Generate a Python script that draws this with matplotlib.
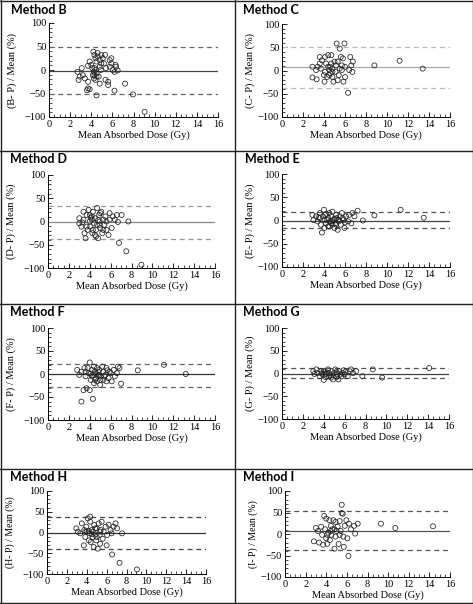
import matplotlib
matplotlib.use("Agg")
import matplotlib.pyplot as plt
from matplotlib.lines import Line2D
from matplotlib.ticker import MultipleLocator

# Bland-Altman style panels: relative difference vs mean absorbed dose

methods = ["B", "C", "D", "E", "F", "G", "H", "I"]
means = [-1.5, 7, -1, 0, -1, 0, 0, 8]
upper = [49, 50, 33, 19, 22, 12, 38, 53]
lower = [-52, -37, -38, -16, -28, -10, -40, -37]

b_dose = [2.7, 3.1, 2.9, 2.8, 3.2, 3.4, 3.7, 3.6, 3.85, 3.7, 3.85, 4.0, 4.1, 4.2, 4.3, 4.4, 4.5,
          4.3, 4.25, 4.3, 4.4, 4.5, 4.5, 4.4, 4.5, 4.6, 4.8, 4.8, 4.9, 4.7, 4.8, 4.95, 5.1, 5.2,
          5.3, 5.35, 5.6, 5.6, 5.75, 5.75, 5.9, 5.9, 6.05, 6.2, 6.3, 6.2, 6.35, 6.5, 7.2, 7.95,
          9.05, 4.15, 4.25, 4.6, 4.95, 5.4, 3.7]
b_diff = [-4, 4, -14, -21, -11, -18, -39, -43, -41, -25, 18, 11, 4, 39, 32, 25, 18,
          4, -4, -11, 0, -7, -14, -21, -54, 29, 21, 7, 0, -14, -29, 32, 25, 14,
          32, -21, -25, -32, 7, 21, 25, 14, 0, -4, 11, -44, 7, -1, -29, -52,
          -89, -11, -18, 36, 14, 4, 9]

c_dose = [2.9, 2.9, 3.25, 3.4, 3.3, 3.6, 3.7, 3.6, 3.8, 4.05, 4.0, 4.1, 4.2, 4.3, 4.4, 4.5, 4.5,
          4.6, 4.7, 4.7, 4.8, 4.8, 4.9, 5.0, 5.1, 5.15, 5.2, 5.3, 5.4, 5.5, 5.6, 5.7, 5.8, 5.7,
          5.85, 5.95, 6.0, 6.3, 6.4, 6.5, 6.6, 6.7, 6.75, 8.8, 11.2, 13.4, 4.6, 4.4, 4.8, 5.5,
          5.3, 4.1, 6.0]
c_diff = [8, -15, 1, 8, -19, 15, 4, 29, 22, -24, -10, 29, 15, -14, 33, 1, -10,
          8, 15, 33, -3, 4, -24, 19, -3, 11, 58, -21, -10, 47, 29, 11, 26, 1,
          -24, 58, -14, -48, 1, 29, 11, -3, 19, 11, 21, 4, -6, 8, -14, 4,
          19, -3, 8]

d_dose = [3.0, 3.0, 3.2, 3.4, 3.4, 3.5, 3.6, 3.7, 3.8, 3.9, 4.0, 4.05, 4.2, 4.25, 4.3, 4.4, 4.5,
          4.6, 4.6, 4.7, 4.8, 4.9, 4.95, 5.0, 5.1, 5.2, 5.3, 5.4, 5.5, 5.6, 5.8, 5.9, 5.9, 6.1,
          6.2, 6.4, 6.6, 6.7, 6.8, 7.05, 7.5, 7.7, 8.95, 3.7, 4.5, 4.7, 4.2, 4.95, 5.3, 4.3,
          4.0, 5.6, 4.1, 4.8, 5.0, 3.3]
d_diff = [7, -4, -11, 21, 4, -25, -36, 14, -18, 25, 0, -11, 11, -25, 21, -4, 7,
          -18, -32, -7, -36, 14, 0, -14, 21, -25, 4, -7, 11, -18, -29, 4, 18, -14,
          11, 4, 14, -1, -46, 14, -64, 0, -93, -11, -29, 29, 4, -7, -18, -18,
          14, 0, 8, 3, 18, -2]

e_dose = [2.9, 3.0, 3.25, 3.4, 3.6, 3.6, 3.7, 3.8, 4.0, 4.05, 4.05, 4.1, 4.2, 4.4, 4.5, 4.5, 4.6,
          4.7, 4.8, 4.8, 4.9, 5.0, 5.1, 5.15, 5.2, 5.3, 5.4, 5.5, 5.6, 5.7, 5.85, 5.95, 6.1, 6.3,
          6.4, 6.6, 6.7, 6.9, 7.2, 7.7, 8.8, 11.3, 13.5, 4.3, 3.9, 4.8, 5.4, 4.7, 5.8, 5.15,
          3.5, 4.4, 5.0, 6.0, 4.2]
e_diff = [12, 1, 9, -2, 5, 16, -9, -26, 23, 1, -16, 12, -6, 5, 16, -13, -2,
          9, -9, 19, 1, -16, -6, 12, 5, -20, -2, 9, -9, 16, 1, -16, 9, -2,
          12, -6, 16, 9, 21, 0, 11, 23, 6, 1, 9, -2, 1, -6, 5, -9,
          7, -12, 4, -4, 14]

f_dose = [2.8, 3.0, 3.2, 3.2, 3.4, 3.5, 3.6, 3.7, 3.9, 4.0, 4.0, 4.1, 4.2, 4.3, 4.3, 4.4, 4.4,
          4.5, 4.6, 4.7, 4.7, 4.8, 4.9, 5.0, 5.05, 5.2, 5.3, 5.3, 5.5, 5.6, 5.6, 5.8, 5.9, 6.0,
          6.1, 6.3, 6.4, 6.6, 6.7, 6.85, 7.0, 8.6, 11.1, 13.2, 3.8, 4.5, 4.8, 5.0, 5.4, 4.2,
          3.6, 4.1, 4.9, 5.7, 4.6]
f_diff = [9, -2, 5, -60, -35, 13, -5, -31, 2, -35, 25, -13, 9, -2, -54, -20, 16,
          5, -9, 13, -16, -2, 9, -24, -5, 16, -13, 5, -2, -16, 13, -9, 5, 2,
          -16, 9, -5, 2, 16, 13, -21, 8, 20, 0, 13, -13, 5, -13, -5, -5,
          5, 1, -3, 8, 0]

g_dose = [3.0, 3.1, 3.3, 3.4, 3.6, 3.75, 3.9, 4.0, 4.1, 4.2, 4.2, 4.4, 4.5, 4.5, 4.7, 4.8, 4.9,
          4.9, 5.0, 5.1, 5.2, 5.3, 5.4, 5.5, 5.7, 5.8, 5.9, 6.0, 6.1, 6.3, 6.5, 6.6, 6.8, 7.1,
          7.7, 8.7, 9.6, 14.1, 4.3, 4.6, 5.25, 3.8, 4.0, 5.6]
g_diff = [5, -1, 9, 1, -6, 5, -2, -14, 4, -8, -1, 9, -6, 1, -9, 5, -4,
          -13, 1, 9, -8, -1, -13, 5, -6, 1, 7, -2, 4, -6, 5, 9, 1, 5,
          -6, 9, -9, 12, 2, -3, 3, 0, 6, -2]

h_dose = [2.95, 3.1, 3.35, 3.5, 3.7, 3.75, 3.85, 3.95, 4.0, 4.1, 4.2, 4.3, 4.35, 4.4, 4.5, 4.6,
          4.7, 4.75, 4.85, 4.95, 5.0, 5.1, 5.2, 5.3, 5.35, 5.4, 5.5, 5.6, 5.7, 5.9, 6.0, 6.05,
          6.2, 6.4, 6.5, 6.7, 6.9, 7.05, 7.55, 6.55, 7.3, 9.05, 4.35, 3.85, 4.85, 5.35, 4.6,
          5.0, 4.2, 4.5]
h_diff = [10, 2, -2, 22, -31, 6, -11, 14, 2, 34, -19, -2, 26, -23, 6, -11,
          -35, 18, -5, -19, 10, -39, 22, -6, -27, 6, 26, -15, 2, 14, -31, -6,
          19, 6, -2, 14, 22, 10, -2, -53, -73, -89, 38, 2, 10, 2, 2,
          -11, 4, -4]

i_dose = [2.8, 3.0, 3.2, 3.3, 3.5, 3.6, 3.7, 3.8, 3.9, 4.0, 4.0, 4.1, 4.2, 4.3, 4.35, 4.45,
          4.5, 4.6, 4.7, 4.8, 4.9, 4.9, 5.0, 5.1, 5.2, 5.3, 5.3, 5.4, 5.5, 5.6, 5.65, 5.7,
          5.8, 5.95, 6.05, 6.15, 6.2, 6.4, 6.7, 6.8, 7.05, 9.3, 10.7, 14.35, 5.5, 4.45, 4.1, 4.8]
i_diff = [-17, 14, 7, -20, 17, -2, -25, 42, 11, -10, 36, -23, 3, 32, -14, 19,
          -2, 11, 32, -34, -6, 28, 7, 17, -23, -2, 30, 7, 68, 47, -6, -30,
          19, 32, -10, -51, 24, 11, 19, 1, 24, 24, 14, 18, 49, 7, -2, 11]

doses = [b_dose, c_dose, d_dose, e_dose, f_dose, g_dose, h_dose, i_dose]
diffs = [b_diff, c_diff, d_diff, e_diff, f_diff, g_diff, h_diff, i_diff]

# pixel layout of each panel: x0, x1, ytop, ybottom of the plot area
boxes = [(49, 218, 23, 117), (282, 450, 24, 117),
         (48, 215, 175, 268), (282, 450, 174, 267),
         (48, 215, 328, 420), (282, 449, 328, 419),
         (47, 206, 491, 574), (285, 450, 491, 577)]
title_pos = [(11, 10), (243, 10), (10, 159), (245, 159),
             (10, 312), (243, 312), (10, 477), (243, 477)]
solid_col = ["#444", "#aaa", "#888", "#444", "#333", "#444", "#333", "#555"]
dash_col = ["#666", "#bbb", "#999", "#555", "#666", "#555", "#444", "#555"]

W, H = 473, 604
fig = plt.figure(figsize=(W / 100, H / 100), dpi=100)
serif = "Liberation Serif"

for k, m in enumerate(methods):
    x0, x1, yt, yb = boxes[k]
    ax = fig.add_axes([x0 / W, 1 - yb / H, (x1 - x0) / W, (yb - yt) / H])
    ax.scatter(doses[k], diffs[k], s=13, facecolors="none", edgecolors="#222",
               linewidths=0.55, zorder=3, clip_on=False)
    ax.axhline(means[k], color=solid_col[k], lw=0.9, zorder=2)
    ax.axhline(upper[k], color=dash_col[k], lw=0.9, ls=(0, (4, 3)), zorder=2)
    ax.axhline(lower[k], color=dash_col[k], lw=0.9, ls=(0, (4, 3)), zorder=2)
    ax.set_xlim(0, 16)
    ax.set_ylim(-100, 100)
    ax.xaxis.set_major_locator(MultipleLocator(2))
    ax.xaxis.set_minor_locator(MultipleLocator(0.5))
    ax.yaxis.set_major_locator(MultipleLocator(50))
    ax.yaxis.set_minor_locator(MultipleLocator(10))
    for s in ["top", "right"]:
        ax.spines[s].set_visible(False)
    for s in ["left", "bottom"]:
        ax.spines[s].set_linewidth(0.7)
    ax.tick_params(which="major", direction="in", length=3.5, width=0.6, pad=2,
                   labelsize=7.5)
    ax.tick_params(which="minor", direction="in", length=2, width=0.5)
    for lab in ax.get_xticklabels() + ax.get_yticklabels():
        lab.set_family(serif)
    ax.set_xlabel("Mean Absorbed Dose (Gy)", family=serif, fontsize=7.5, labelpad=1)
    ylab_size = 7 if (yb - yt) < 90 else 7.5
    ax.set_ylabel(f"({m}- P) / Mean (%)", family=serif, fontsize=ylab_size)
    gap = 32 if k % 2 == 0 else 27
    ax.yaxis.set_label_coords(-gap / (x1 - x0), 0.5)
    tx, ty = title_pos[k]
    fig.text(tx / W, 1 - ty / H, f"Method {m}", family="Lato", fontweight="bold",
             fontsize=9, va="center", ha="left")

# table borders around the panels
border = dict(color="#222", lw=1.0)
for yy in [0.5, 151, 304, 469, 603]:
    fig.add_artist(Line2D([0, 1], [1 - yy / H, 1 - yy / H], **border))
for xx in [0.5, 235, 472.5]:
    fig.add_artist(Line2D([xx / W, xx / W], [0, 1], **border))

plt.savefig("out.png", dpi=100)
